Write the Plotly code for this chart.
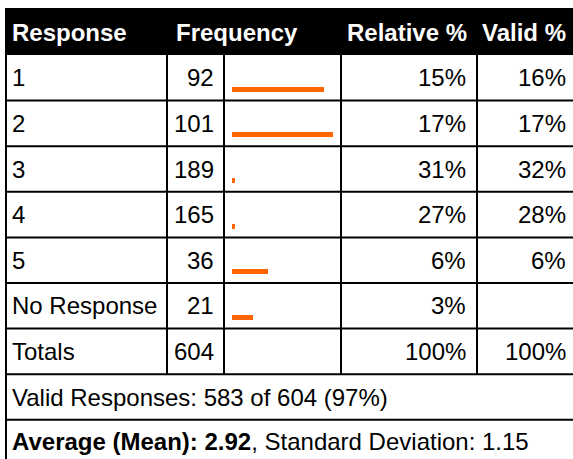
import plotly.graph_objects as go

# ---- data ----
headers = ["Response", "Frequency", "Relative %", "Valid %"]
responses = ["1", "2", "3", "4", "5", "No Response"]
frequency = [92, 101, 189, 165, 36, 21]
bar_values = [92, 101, 3, 3, 36, 21]          # bar lengths as drawn in the picture
relative_pct = ["15%", "17%", "31%", "27%", "6%", "3%"]
valid_pct = ["16%", "17%", "32%", "28%", "6%", ""]
totals_label = "Totals"
total_frequency = 604
total_relative = "100%"
total_valid = "100%"
valid_summary = "Valid Responses: 583 of 604 (97%)"
mean_label = "Average (Mean): 2.92"
sd_label = "Standard Deviation: 1.15"

# ---- layout geometry (pixels) ----
W, H = 573, 459
left = 6
col_x = [left, 167, 224, 341, 477, 575]   # column boundaries
header_top, header_bot = 8, 55
row_h = 45.6
FONT = "Liberation Sans, Arial, sans-serif"
FS = 24
ORANGE = "#FF6600"
PAD_L = 4

n = len(responses)
row_tops = [header_bot + i * row_h for i in range(n + 3)]  # data rows, totals, valid, mean
row_centers = [t + row_h / 2 for t in row_tops]

fig = go.Figure()

# bars in the frequency column
bar_x0 = col_x[2] + 8
fig.add_trace(go.Bar(
    orientation="h",
    x=bar_values,
    base=[bar_x0] * n,
    y=[row_centers[i] + 11.5 for i in range(n)],
    width=5,
    marker=dict(color=ORANGE, line=dict(width=0)),
    hoverinfo="skip",
    showlegend=False,
))

shapes = []
# header background
shapes.append(dict(type="rect", x0=left - 1, x1=W + 2, y0=header_top, y1=header_bot,
                   fillcolor="black", line=dict(width=0), layer="below"))
line_style = dict(color="black", width=2)
# left border
shapes.append(dict(type="line", x0=left, x1=left, y0=header_top, y1=H + 5, line=line_style))
# horizontal lines
for i in range(1, n + 3):
    shapes.append(dict(type="line", x0=left, x1=W + 2, y0=row_tops[i], y1=row_tops[i], line=line_style))
# vertical column lines for data rows + totals
for cx in col_x[1:5]:
    shapes.append(dict(type="line", x0=cx, x1=cx, y0=header_bot, y1=row_tops[n + 1], line=line_style))

ann = []
def txt(x, y, s, anchor, color="black", bold=False):
    ann.append(dict(x=x, y=y, xref="x", yref="y", text=(f"<b>{s}</b>" if bold else s),
                    showarrow=False, xanchor=anchor, yanchor="middle",
                    font=dict(family=FONT, size=FS, color=color)))

hy = (header_top + header_bot) / 2 + 1
txt(col_x[0] + PAD_L, hy, headers[0], "left", "white", True)
txt(col_x[1] + 7, hy, headers[1], "left", "white", True)
txt(col_x[4] - 8, hy, headers[2], "right", "white", True)
txt(W - 5, hy, headers[3], "right", "white", True)

for i in range(n):
    cy = row_centers[i]
    txt(col_x[0] + PAD_L, cy, responses[i], "left")
    txt(col_x[2] - 8, cy, str(frequency[i]), "right")
    txt(col_x[4] - 9, cy, relative_pct[i], "right")
    if valid_pct[i]:
        txt(W - 5, cy, valid_pct[i], "right")

cy = row_centers[n]
txt(col_x[0] + PAD_L, cy, totals_label, "left")
txt(col_x[2] - 8, cy, str(total_frequency), "right")
txt(col_x[4] - 9, cy, total_relative, "right")
txt(W - 5, cy, total_valid, "right")

txt(col_x[0] + PAD_L, row_centers[n + 1], valid_summary, "left")
ann.append(dict(x=col_x[0] + PAD_L, y=row_centers[n + 2] - 1, xref="x", yref="y",
                text=f"<b>{mean_label}</b>, {sd_label}", showarrow=False,
                xanchor="left", yanchor="middle",
                font=dict(family=FONT, size=FS, color="black")))

fig.update_layout(
    width=W, height=H,
    margin=dict(l=0, r=0, t=0, b=0),
    paper_bgcolor="white", plot_bgcolor="white",
    xaxis=dict(range=[0, W], visible=False, fixedrange=True),
    yaxis=dict(range=[H, 0], visible=False, fixedrange=True),
    shapes=shapes, annotations=ann,
    showlegend=False, bargap=0,
)

fig.write_html("out.html", config={"displayModeBar": False},
               post_script="document.body.style.margin='0';document.body.style.overflow='hidden';")
